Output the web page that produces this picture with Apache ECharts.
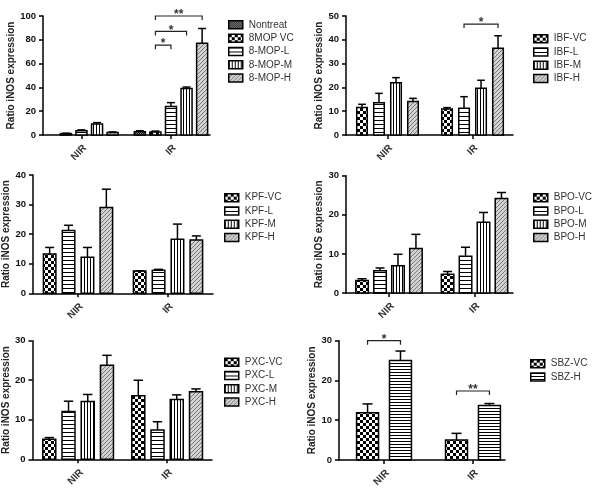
<!DOCTYPE html>
<html><head><meta charset="utf-8">
<script src="https://cdn.jsdelivr.net/npm/echarts@6/dist/echarts.min.js"></script>
<style>html,body{margin:0;padding:0;background:#fff}#c{width:605px;height:492px}</style>
</head><body><div id="c"></div>
<script>
// ---------- data ----------
const groups = ['NIR', 'IR'];

const mopNames = ['Nontreat', '8MOP VC', '8-MOP-L', '8-MOP-M', '8-MOP-H'];
const mopNIR = [null, 1.2, 3.5, 9.2, 2.2];
const mopNIRErr = [null, 0.3, 0.8, 1.2, 0.4];
const mopIR = [2.8, 2.6, 24, 39, 77];
const mopIRErr = [0.8, 0.7, 3.2, 1.3, 12.5];
const mopSig = [[1, 1, 2, 75.5, '*'], [1, 1, 3, 87, '*'], [1, 1, 4, 100, '**']];

const ibfNames = ['IBF-VC', 'IBF-L', 'IBF-M', 'IBF-H'];
const ibfNIR = [11.6, 13.6, 22, 14.1];
const ibfNIRErr = [1.3, 3.9, 2.1, 1.3];
const ibfIR = [10.9, 11.2, 19.6, 36.4];
const ibfIRErr = [0.6, 4.9, 3.4, 5.3];
const ibfSig = [[1, 1, 3, 46.6, '*']];

const kpfNames = ['KPF-VC', 'KPF-L', 'KPF-M', 'KPF-H'];
const kpfNIR = [13.3, 21.2, 12.2, 29];
const kpfNIRErr = [2.2, 1.8, 3.3, 6.2];
const kpfIR = [7.5, 7.8, 18.3, 18];
const kpfIRErr = [0.1, 0.3, 5.1, 1.4];

const bpoNames = ['BPO-VC', 'BPO-L', 'BPO-M', 'BPO-H'];
const bpoNIR = [3.2, 5.7, 7, 11.4];
const bpoNIRErr = [0.45, 0.7, 2.9, 3.6];
const bpoIR = [4.8, 9.4, 18.1, 24.2];
const bpoIRErr = [0.7, 2.3, 2.5, 1.5];

const pxcNames = ['PXC-VC', 'PXC-L', 'PXC-M', 'PXC-H'];
const pxcNIR = [5.1, 12.1, 14.6, 23.8];
const pxcNIRErr = [0.4, 2.6, 1.8, 2.5];
const pxcIR = [16.1, 7.4, 15.1, 17.1];
const pxcIRErr = [3.9, 2.1, 1.2, 0.7];

const sbzNames = ['SBZ-VC', 'SBZ-H'];
const sbzNIR = [11.9, 25];
const sbzNIRErr = [2.2, 2.4];
const sbzIR = [5, 13.7];
const sbzIRErr = [1.7, 0.5];
const sbzSig = [[0, 0, 1, 30, '*'], [1, 0, 1, 17.35, '**']];

const yTitle = 'Ratio iNOS expression';

// ---------- patterns ----------
function pat(w, h, bg, fg, cells) {
  const c = document.createElement('canvas');
  c.width = w; c.height = h;
  const g = c.getContext('2d');
  g.fillStyle = bg; g.fillRect(0, 0, w, h);
  g.fillStyle = fg;
  cells.forEach(r => g.fillRect(r[0], r[1], r[2], r[3]));
  return { image: c, repeat: 'repeat' };
}
const P_NON = pat(2, 2, '#9a9a9a', '#111', [[0, 0, 1, 1], [1, 1, 1, 1]]);
const P_CHK = pat(6, 6, '#fff', '#000', [[0, 0, 3, 3], [3, 3, 3, 3]]);
const P_HOR = pat(4, 4, '#fff', '#000', [[0, 0, 4, 1]]);
const P_HOR3 = pat(3, 3, '#fff', '#000', [[0, 0, 3, 1]]);
const P_VER = pat(3, 3, '#fff', '#000', [[0, 0, 1, 3]]);
const P_DIA = pat(4, 4, '#d2d2d2', '#7a7a7a', [[3, 0, 1, 1], [2, 1, 1, 1], [1, 2, 1, 1], [0, 3, 1, 1]]);

// ---------- panels (layout) ----------
const FONT = "'Liberation Sans', Arial, sans-serif";
const panels = [
  { names: mopNames, nir: mopNIR, nirE: mopNIRErr, ir: mopIR, irE: mopIRErr, sig: mopSig,
    pats: [P_NON, P_CHK, P_HOR, P_VER, P_DIA], max: 100, interval: 20,
    grid: [43, 16, 167, 119], xr: [-0.430, 1.436], step: 0.174, bw: 0.123, lg: [228, 18.2], gap: 26 },
  { names: ibfNames, nir: ibfNIR, nirE: ibfNIRErr, ir: ibfIR, irE: ibfIRErr, sig: ibfSig,
    pats: [P_CHK, P_HOR, P_VER, P_DIA], max: 50, interval: 10,
    grid: [346, 16, 167, 119], xr: [-0.488, 1.476], step: 0.2, bw: 0.124, lg: [533, 32], gap: 20 },
  { names: kpfNames, nir: kpfNIR, nirE: kpfNIRErr, ir: kpfIR, irE: kpfIRErr, sig: [],
    pats: [P_CHK, P_HOR, P_VER, P_DIA], max: 40, interval: 10,
    grid: [33, 175, 180, 118.3], xr: [-0.5, 1.5], step: 0.21, bw: 0.139, lg: [224, 191], gap: 15 },
  { names: bpoNames, nir: bpoNIR, nirE: bpoNIRErr, ir: bpoIR, irE: bpoIRErr, sig: [],
    pats: [P_CHK, P_HOR, P_VER, P_DIA], max: 30, interval: 10,
    grid: [346, 175.7, 167, 117.3], xr: [-0.503, 1.450], step: 0.21, bw: 0.146, lg: [533, 191], gap: 20 },
  { names: pxcNames, nir: pxcNIR, nirE: pxcNIRErr, ir: pxcIR, irE: pxcIRErr, sig: [],
    pats: [P_CHK, P_HOR, P_VER, P_DIA], max: 30, interval: 10,
    grid: [32, 340.7, 180, 118.6], xr: [-0.513, 1.504], step: 0.216, bw: 0.146, lg: [224, 355.5], gap: 14 },
  { names: sbzNames, nir: sbzNIR, nirE: sbzNIRErr, ir: sbzIR, irE: sbzIRErr, sig: sbzSig,
    pats: [P_CHK, P_HOR3], max: 30, interval: 10,
    grid: [339, 340.7, 166, 119.3], xr: [-0.506, 1.36], step: 0.37, bw: 0.247, lg: [530, 357], gap: 18 }
];

function barRender(step, bw, fill) {
  return function (params, api) {
    const cat = api.value(0), val = api.value(1), err = api.value(2), slot = api.value(3), n = api.value(4);
    const unit = api.size([1, 0])[0];
    const base = api.coord([cat, 0]);
    const top = api.coord([cat, val]);
    const et = api.coord([cat, val + err]);
    const cx = base[0] + (slot - (n - 1) / 2) * step * unit;
    const w = bw * unit;
    const cw = Math.min(w * 0.36, 5);
    return {
      type: 'group',
      children: [
        { type: 'rect', shape: { x: cx - w / 2, y: top[1], width: w, height: base[1] - top[1] },
          style: { fill: fill, stroke: '#000', lineWidth: 1.5 } },
        { type: 'line', shape: { x1: cx, y1: top[1], x2: cx, y2: et[1] }, style: { stroke: '#000', lineWidth: 1.5 } },
        { type: 'line', shape: { x1: cx - cw, y1: et[1], x2: cx + cw, y2: et[1] }, style: { stroke: '#000', lineWidth: 1.5 } }
      ]
    };
  };
}

function sigRender(step, labels) {
  return function (params, api) {
    const cat = api.value(0), a = api.value(1), b = api.value(2), lvl = api.value(3), n = api.value(4);
    const unit = api.size([1, 0])[0];
    const p = api.coord([cat, lvl]);
    const xa = p[0] + (a - (n - 1) / 2) * step * unit;
    const xb = p[0] + (b - (n - 1) / 2) * step * unit;
    const y = p[1];
    return {
      type: 'group',
      children: [
        { type: 'polyline', shape: { points: [[xa, y + 4], [xa, y], [xb, y], [xb, y + 4]] },
          style: { fill: 'none', stroke: '#222', lineWidth: 1.2 } },
        { type: 'text', x: (xa + xb) / 2, y: y - 1,
          style: { text: labels[params.dataIndex], fill: '#333', font: 'bold 12px ' + FONT, align: 'center', verticalAlign: 'middle' } }
      ]
    };
  };
}

const option = { animation: false, textStyle: { fontFamily: FONT }, grid: [], xAxis: [], yAxis: [], legend: [], series: [] };

panels.forEach((p, pi) => {
  option.grid.push({ left: p.grid[0], top: p.grid[1], width: p.grid[2], height: p.grid[3] });
  option.xAxis.push({
    type: 'value', gridIndex: pi, min: p.xr[0], max: p.xr[1],
    axisLine: { show: true, onZero: false, lineStyle: { color: '#000', width: 1.5 } },
    axisTick: { show: true, customValues: [0, 1], length: 4, lineStyle: { color: '#000', width: 1.5 } },
    axisLabel: { customValues: [0, 1], formatter: v => groups[Math.round(v)] || '', rotate: 45, margin: 8,
      verticalAlign: 'top', fontSize: 10, fontWeight: 'bold', color: '#333', fontFamily: FONT },
    splitLine: { show: false }
  });
  option.yAxis.push({
    type: 'value', gridIndex: pi, min: 0, max: p.max, interval: p.interval,
    name: yTitle, nameLocation: 'middle', nameGap: p.gap,
    nameTextStyle: { fontSize: 10, fontWeight: 'bold', color: '#222', fontFamily: FONT },
    axisLine: { show: true, onZero: false, lineStyle: { color: '#000', width: 1.5 } },
    axisTick: { show: true, length: 4, lineStyle: { color: '#000', width: 1.5 } },
    axisLabel: { fontSize: 9.5, fontWeight: 'bold', color: '#111', margin: 7, fontFamily: FONT },
    splitLine: { show: false }
  });
  option.legend.push({
    orient: 'vertical', left: p.lg[0], top: p.lg[1], padding: 0, itemGap: 0,
    icon: 'rect', itemWidth: 14, itemHeight: 8, selectedMode: false, data: p.names,
    itemStyle: { borderColor: '#000', borderWidth: 1.5 },
    textStyle: { fontSize: 10, color: '#333', lineHeight: 13.3, fontFamily: FONT, padding: [0, 0, 0, 1] }
  });
  const n = p.names.length;
  p.names.forEach((nm, s) => {
    const data = [];
    if (p.nir[s] != null) data.push([0, p.nir[s], p.nirE[s], s, n]);
    if (p.ir[s] != null) data.push([1, p.ir[s], p.irE[s], s, n]);
    option.series.push({
      type: 'custom', name: nm, xAxisIndex: pi, yAxisIndex: pi, clip: false, silent: true,
      itemStyle: { color: p.pats[s], borderColor: '#000', borderWidth: 1.5 },
      encode: { x: 0, y: 1 },
      renderItem: barRender(p.step, p.bw, p.pats[s]),
      data: data
    });
  });
  if (p.sig.length) {
    option.series.push({
      type: 'custom', xAxisIndex: pi, yAxisIndex: pi, clip: false, silent: true, z: 5,
      encode: { x: 0, y: 3 },
      renderItem: sigRender(p.step, p.sig.map(r => r[4])),
      data: p.sig.map(r => [r[0], r[1], r[2], r[3], n])
    });
  }
});

const chart = echarts.init(document.getElementById('c'), null, { renderer: 'canvas' });
chart.setOption(option);
</script>
</body></html>
